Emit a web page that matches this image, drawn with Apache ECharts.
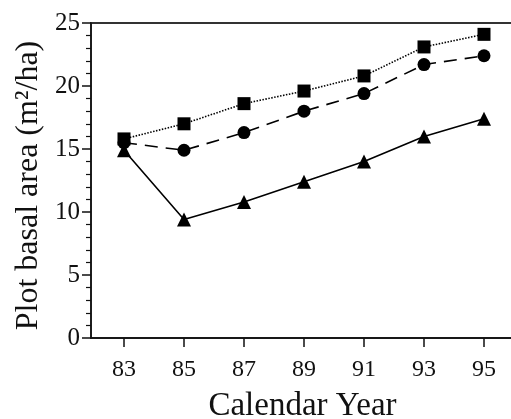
<!DOCTYPE html>
<html lang="en">
<head>
<meta charset="UTF-8">
<title>Plot basal area</title>
<script src="https://cdn.jsdelivr.net/npm/echarts@6/dist/echarts.min.js"></script>
</head>
<body style="margin:0">
<div id="main" style="width:511px;height:419px"></div>
<script>
  var years = [83, 85, 87, 89, 91, 93, 95];
  var squares = [15.8, 17.0, 18.6, 19.6, 20.8, 23.1, 24.1];
  var circles = [15.5, 14.9, 16.3, 18.0, 19.4, 21.7, 22.4];
  var triangles = [14.9, 9.4, 10.8, 12.4, 14.0, 16.0, 17.4];
  var yTicks = [0, 5, 10, 15, 20, 25];

  var font = '"Liberation Serif", "Times New Roman", serif';
  var ink = '#111';

  function pairs(vals) {
    return years.map(function (y, i) { return [y, vals[i]]; });
  }

  var chart = echarts.init(document.getElementById('main'));

  var option = {
    animation: false,
    grid: {
      left: 91, right: -9, top: 23, bottom: 81,
      outerBoundsMode: 'none',
      containLabel: false,
      show: true, borderColor: '#333', borderWidth: 1.8
    },
    xAxis: {
      type: 'value',
      min: 81.9,
      max: 96.2,
      name: 'Calendar Year',
      nameLocation: 'middle',
      nameGap: 52,
      nameTextStyle: { fontFamily: font, fontSize: 33, color: ink, padding: [0, 6, 0, 0] },
      axisLine: { lineStyle: { color: ink, width: 1.5 } },
      axisTick: { customValues: years, length: 9, lineStyle: { color: ink, width: 1.5 } },
      axisLabel: { customValues: years, fontFamily: font, fontSize: 24, color: ink, margin: 20 },
      splitLine: { show: false }
    },
    yAxis: {
      type: 'value',
      min: 0,
      max: 25,
      interval: 5,
      name: 'Plot basal area (m\u00b2/ha)',
      nameLocation: 'middle',
      nameGap: 44,
      nameTextStyle: { fontFamily: font, fontSize: 32, color: ink, padding: [0, 10, 0, 0] },
      axisLine: { show: true, lineStyle: { color: ink, width: 1.5 } },
      axisTick: { length: 9, lineStyle: { color: ink, width: 1.5 } },
      minorTick: { show: true, splitNumber: 5, length: 5, lineStyle: { color: ink, width: 1.2 } },
      axisLabel: { customValues: yTicks, fontFamily: font, fontSize: 25, color: ink, margin: 11 },
      splitLine: { show: false }
    },
    series: [
      {
        type: 'line',
        data: pairs(squares),
        symbol: 'rect',
        symbolSize: 13,
        itemStyle: { color: '#000' },
        lineStyle: { color: '#000', width: 1.6, type: [1.5, 1.5] },
        z: 3
      },
      {
        type: 'line',
        data: pairs(circles),
        symbol: 'circle',
        symbolSize: 13,
        itemStyle: { color: '#000' },
        lineStyle: { color: '#000', width: 1.6, type: [13, 8] },
        z: 2
      },
      {
        type: 'line',
        data: pairs(triangles),
        symbol: 'triangle',
        symbolSize: 14,
        itemStyle: { color: '#000' },
        lineStyle: { color: '#000', width: 1.6 },
        z: 1
      }
    ]
  };

  chart.setOption(option);
</script>
</body>
</html>
